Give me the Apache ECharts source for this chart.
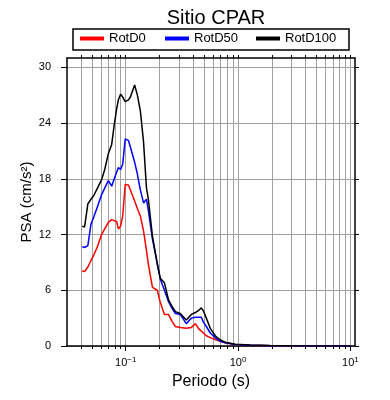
<!DOCTYPE html>
<html>
<head>
<meta charset="utf-8">
<script src="https://cdn.jsdelivr.net/npm/echarts@6/dist/echarts.min.js"></script>
<style>
  html, body { margin: 0; padding: 0; background: #fff; }
  #main { width: 390px; height: 400px; }
</style>
</head>
<body>
<div id="main"></div>
<script>
var periods = [0.041, 0.043, 0.046, 0.049, 0.052, 0.056, 0.061, 0.065, 0.070, 0.075,
  0.079, 0.083, 0.086, 0.090, 0.094, 0.099, 0.106, 0.110, 0.120, 0.127,
  0.135, 0.144, 0.153, 0.159, 0.173, 0.191, 0.203, 0.221, 0.240, 0.260,
  0.277, 0.306, 0.346, 0.384, 0.417, 0.443, 0.471, 0.491, 0.522, 0.566,
  0.627, 0.695, 0.769, 0.944, 1.28, 1.93, 3.57, 10.0];

var rotD0 = [8.1, 8.0, 8.5, 9.2, 9.8, 10.7, 12.0, 12.6, 13.3, 13.6,
  13.5, 13.4, 12.6, 12.9, 14.0, 17.4, 17.3, 17.2, 15.6, 14.8,
  14.0, 12.4, 10.3, 8.8, 6.3, 6.0, 4.7, 3.4, 3.4, 2.6,
  2.1, 2.0, 1.9, 2.0, 2.4, 1.9, 1.6, 1.4, 1.1, 0.9,
  0.7, 0.5, 0.35, 0.17, 0.08, 0.04, 0.02, 0.01];

var rotD50 = [10.7, 10.6, 10.8, 13.1, 13.9, 15.0, 16.3, 17.0, 17.8, 17.2,
  18.0, 18.7, 19.2, 19.0, 19.6, 22.3, 22.1, 21.9, 19.8, 18.5,
  16.8, 15.4, 15.8, 14.6, 11.5, 8.9, 7.2, 6.0, 4.8, 4.0,
  3.5, 3.4, 2.4, 3.0, 3.1, 3.1, 3.1, 2.6, 2.1, 1.4,
  0.9, 0.5, 0.35, 0.17, 0.08, 0.04, 0.02, 0.01];

var rotD100 = [12.9, 12.8, 15.3, 15.8, 16.2, 17.0, 17.9, 19.0, 20.7, 21.7,
  23.8, 25.5, 26.5, 27.1, 26.8, 26.3, 26.5, 26.8, 28.1, 27.0,
  25.3, 22.0, 17.0, 15.8, 11.8, 8.8, 7.3, 6.8, 5.0, 4.2,
  3.7, 3.5, 2.8, 3.4, 3.6, 3.8, 4.1, 3.8, 3.0, 1.9,
  1.1, 0.65, 0.4, 0.2, 0.1, 0.05, 0.02, 0.01];

var seriesNames = ['RotD0', 'RotD50', 'RotD100'];
var xTicks = [0.04, 0.05, 0.06, 0.07, 0.08, 0.09, 0.1, 0.2, 0.3, 0.4, 0.5, 0.6, 0.7, 0.8, 0.9,
  1, 2, 3, 4, 5, 6, 7, 8, 9, 10];
var xLabels = [0.1, 1, 10];
var yTicks = [0, 6, 12, 18, 24, 30];

var font = 'Liberation Sans, Arial, Helvetica, sans-serif';

function pairs(vals) {
  return periods.map(function (p, i) { return [p, vals[i]]; });
}

function expLabel(v) {
  var e = Math.round(Math.log10(v));
  return '10{s|' + (e < 0 ? '\u2212' + (-e) : e) + '}';
}

var myChart = echarts.init(document.getElementById('main'));

var frame = { show: true, onZero: false, lineStyle: { color: '#000', width: 1.5 } };

// one legend per entry so the columns sit like the original
var legendLeft = [80, 165, 256];
var legends = seriesNames.map(function (n, i) {
  return {
    data: [n],
    left: legendLeft[i],
    top: 32,
    padding: 0,
    itemWidth: 24,
    itemHeight: 4,
    icon: 'rect',
    textStyle: { fontFamily: font, fontSize: 13, color: '#000' }
  };
});

var option = {
  animation: false,
  backgroundColor: '#fff',
  title: {
    text: 'Sitio CPAR',
    left: 211,
    top: 3,
    textAlign: 'center',
    textStyle: { fontFamily: font, fontSize: 20, fontWeight: 'normal', color: '#000' }
  },
  legend: legends,
  graphic: [{
    type: 'rect',
    shape: { x: 73, y: 29, width: 276, height: 21 },
    style: { fill: null, stroke: '#000', lineWidth: 1.5 }
  }],
  grid: { left: 67, right: 35, top: 58, bottom: 54 },
  xAxis: [
    {
      type: 'log',
      min: 0.03,
      max: 11,
      position: 'bottom',
      name: 'Periodo (s)',
      nameLocation: 'middle',
      nameGap: 28,
      nameMoveOverlap: false,
      nameTextStyle: { fontFamily: font, fontSize: 16, color: '#000' },
      axisLine: frame,
      axisTick: { show: true, length: 3, customValues: xTicks, lineStyle: { color: '#000' } },
      axisLabel: {
        customValues: xLabels,
        margin: 10,
        fontFamily: font, fontSize: 11, color: '#000',
        formatter: expLabel,
        rich: { s: { fontFamily: font, fontSize: 8, color: '#000', verticalAlign: 'top', padding: [0, 0, 6, 0] } }
      },
      splitLine: { show: true, lineStyle: { color: '#a0a0a0', width: 1 } }
    },
    {
      type: 'log',
      min: 0.03,
      max: 11,
      position: 'bottom',
      axisLine: { show: false },
      axisTick: { show: true, length: 5, customValues: xLabels, lineStyle: { color: '#000' } },
      axisLabel: { show: false },
      splitLine: { show: false }
    },
    {
      type: 'log',
      min: 0.03,
      max: 11,
      position: 'top',
      axisLine: frame,
      axisTick: { show: true, length: 3, customValues: xTicks, lineStyle: { color: '#000' } },
      axisLabel: { show: false },
      splitLine: { show: false }
    }
  ],
  yAxis: [
    {
      type: 'value',
      min: 0,
      max: 31,
      interval: 6,
      position: 'left',
      name: 'PSA (cm/s\u00b2)',
      nameLocation: 'middle',
      nameGap: 33,
      nameMoveOverlap: false,
      nameTextStyle: { fontFamily: font, fontSize: 15, color: '#000' },
      axisLine: frame,
      axisTick: { show: true, length: 6, customValues: yTicks, lineStyle: { color: '#000' } },
      axisLabel: { customValues: yTicks, margin: 16, fontFamily: font, fontSize: 11, color: '#000' },
      splitLine: { show: true, lineStyle: { color: '#a0a0a0', width: 1 } }
    },
    {
      type: 'value',
      min: 0,
      max: 31,
      interval: 6,
      position: 'right',
      axisLine: frame,
      axisTick: { show: true, length: 4, customValues: yTicks, lineStyle: { color: '#000' } },
      axisLabel: { show: false },
      splitLine: { show: false }
    }
  ],
  series: [
    { name: seriesNames[0], type: 'line', data: pairs(rotD0), showSymbol: false, color: '#ff0000', lineStyle: { width: 1.5 }, z: 3 },
    { name: seriesNames[1], type: 'line', data: pairs(rotD50), showSymbol: false, color: '#0000ff', lineStyle: { width: 1.5 }, z: 4 },
    { name: seriesNames[2], type: 'line', data: pairs(rotD100), showSymbol: false, color: '#000000', lineStyle: { width: 1.5 }, z: 5 }
  ]
};

myChart.setOption(option);
</script>
</body>
</html>
